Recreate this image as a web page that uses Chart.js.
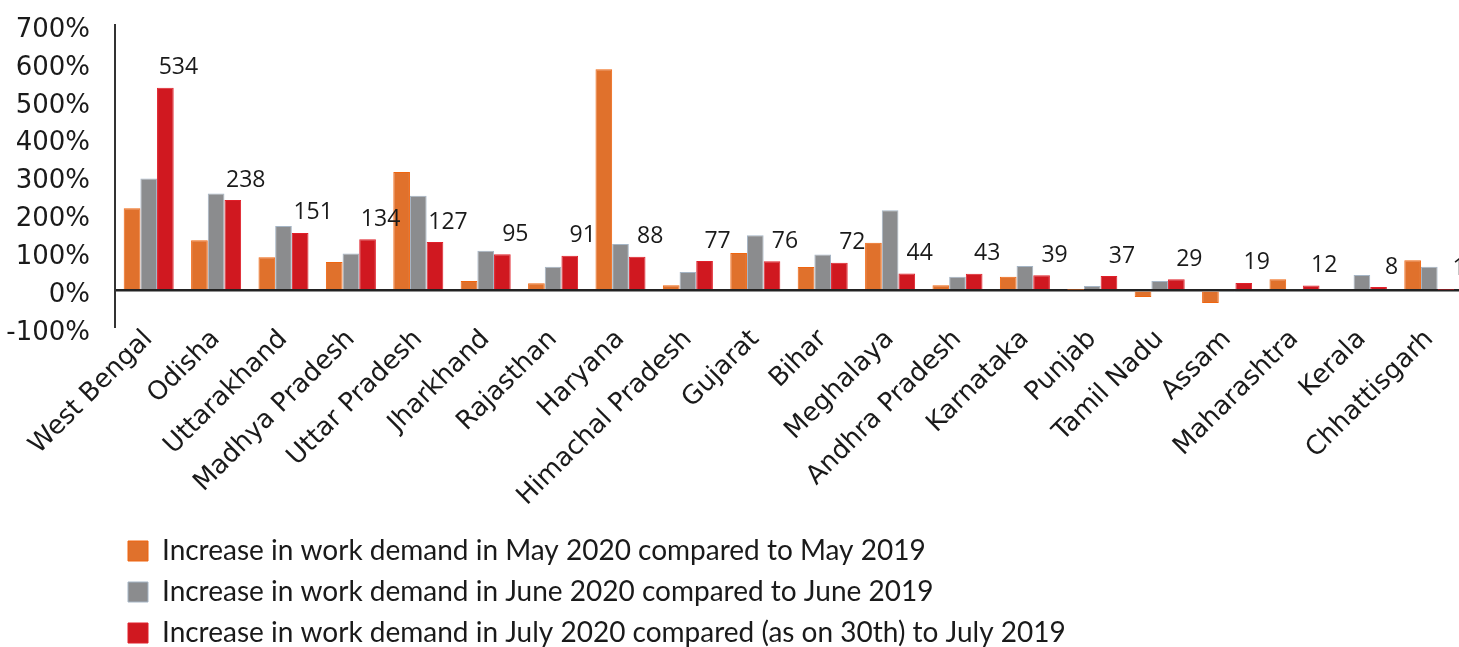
<!DOCTYPE html>
<html><head><meta charset="utf-8">
<script src="https://cdn.jsdelivr.net/npm/chart.js@4.4.0/dist/chart.umd.min.js"></script>
<style>html,body{margin:0;padding:0;background:#fff;overflow:hidden}
#wrap{position:relative;width:1470px;height:647px}</style>
</head><body><div id="wrap"><canvas id="c"></canvas></div>
<script>
const states = ["West Bengal","Odisha","Uttarakhand","Madhya Pradesh","Uttar Pradesh","Jharkhand","Rajasthan","Haryana","Himachal Pradesh","Gujarat","Bihar","Meghalaya","Andhra Pradesh","Karnataka","Punjab","Tamil Nadu","Assam","Maharashtra","Kerala","Chhattisgarh"];
const may2020 = [216,132,87,74,312,24,18,583,13,98,61,125,13,35,1,-18,-34,29,0,79];
const june2020 = [295,255,169,97,249,104,62,122,48,145,94,211,35,64,11,24,-2,2,40,62];
const july2020 = [534,238,151,134,127,95,91,88,77,76,72,44,43,39,37,29,19,12,8,1];
const seriesNames = ["Increase in work demand in May 2020 compared to May 2019","Increase in work demand in June 2020 compared to June 2019","Increase in work demand in July 2020 compared (as on 30th) to July 2019"];
const yMin = -100, yMax = 700, yStep = 100;

const TXT = '#1a1a1a';

const redLabels = {
  id: 'redLabels',
  afterDatasetsDraw(chart) {
    const meta = chart.getDatasetMeta(2);
    const ctx = chart.ctx;
    ctx.save();
    ctx.font = "23px 'Open Sans', sans-serif";
    ctx.fillStyle = TXT;
    ctx.textAlign = 'center';
    ctx.textBaseline = 'middle';
    meta.data.forEach((bar, i) => {
      ctx.fillText(String(july2020[i]), bar.x + 13, Math.min(bar.y, bar.base) - 20);
    });
    ctx.restore();
  }
};

new Chart(document.getElementById('c'), {
  type: 'bar',
  data: {
    labels: states,
    datasets: [
      {label: seriesNames[0], data: may2020, backgroundColor: '#E0712C', borderColor: '#F0650F', borderWidth: 1},
      {label: seriesNames[1], data: june2020, backgroundColor: '#8B8C8E', borderColor: '#A5B5C5', borderWidth: 1},
      {label: seriesNames[2], data: july2020, backgroundColor: '#D01820', borderColor: '#E0202A', borderWidth: 1}
    ]
  },
  options: {
    responsive: true,
    maintainAspectRatio: false,
    animation: false,
    categoryPercentage: 0.742,
    barPercentage: 1.0,
    layout: {padding: {top: 25, right: 7, left: 0, bottom: -10}},
    plugins: {
      tooltip: {enabled: false},
      legend: {
        position: 'bottom',
        align: 'start',
        fullSize: false,
        labels: {
          font: {family: 'Lato, sans-serif', size: 28},
          color: TXT,
          boxWidth: 20,
          boxHeight: 20,
          padding: 13
        }
      }
    },
    scales: {
      x: {
        grid: {display: false},
        border: {display: false},
        ticks: {
          autoSkip: false,
          maxRotation: 45,
          minRotation: 45,
          padding: -12,
          color: TXT,
          font: {family: "'DejaVu Sans', sans-serif", size: 26}
        },
        afterFit(scale) { scale.height = 196; }
      },
      y: {
        min: yMin,
        max: yMax,
        ticks: {
          stepSize: yStep,
          padding: 25,
          labelOffset: 5,
          color: TXT,
          font: {family: "'DejaVu Sans', sans-serif", size: 26},
          callback: v => v + '%'
        },
        grid: {
          drawTicks: false,
          color: c => c.tick && c.tick.value === 0 ? '#222' : 'rgba(0,0,0,0)',
          lineWidth: c => c.tick && c.tick.value === 0 ? 2.5 : 0
        },
        border: {display: true, color: '#333', width: 2},
        afterFit(scale) { scale.width = 115; scale.paddingTop = 0; scale.paddingBottom = 0; }
      }
    }
  },
  plugins: [redLabels]
});
</script>
</body></html>
